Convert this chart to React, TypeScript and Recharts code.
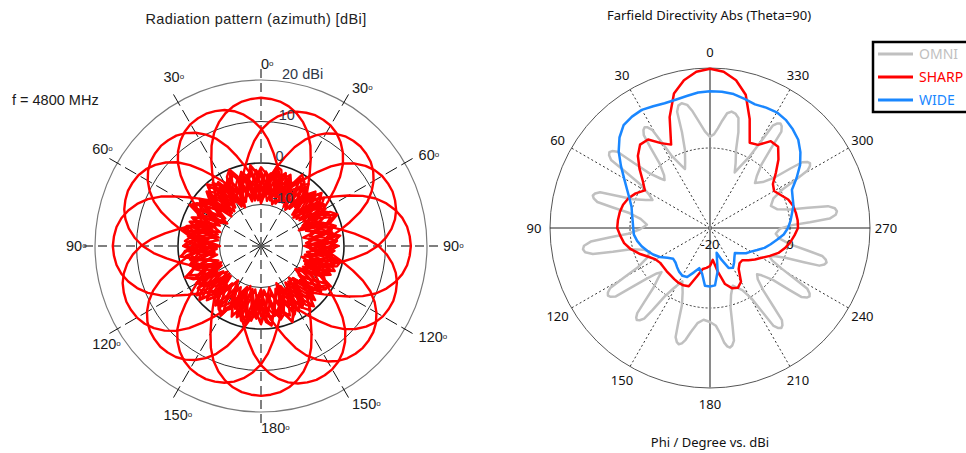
import React from 'react';
import { RadarChart, Radar, PolarGrid, PolarAngleAxis, PolarRadiusAxis } from 'recharts';

// ---------------- Left chart: Radiation pattern (azimuth) [dBi] ----------------
// One switched beam, sampled every 3.75 degrees (offset from the beam direction), dBi
const beamStep = 3.75;
const beamShape = [
  15.8, 15.6, 15.2, 14.4, 13.2, 11.6, 9.6, 7.0, 4.0, 1.2, -1.2, -3.2, -4.8,
  -3.5, -0.8, -2.5, -6.0, -3.0, -0.5, -3.5, -7.5, -4.5, -1.0, -2.0, -5.5,
  -8.0, -5.0, -1.5, -3.0, -6.5, -8.5, -4.5, -1.2, -2.5, -5.5, -7.5, -4.0,
  -0.6, -2.0, -5.8, -8.2, -5.0, -1.8, -3.2, -7.0, -4.2, -0.7, -2.5, -6.5,
  -8.0, -4.5, -1.2, -2.8, -6.0, -7.8, -4.0, -0.5, -1.8, -5.2, -7.5, -3.5,
  -1.0, -3.8, -7.8, -5.2, -1.8, -0.4, -2.6, -6.4, -8.4, -5.0, -2.0, -3.6,
  -6.6, -4.0, -0.8, -1.4, -4.6, -7.2, -4.5, -1.5, -1.6, -3.0, -4.2,
  -4.8, -3.2, -1.2, 1.2, 4.0, 7.0, 9.6, 11.6, 13.2, 14.4, 15.2, 15.6,
];
// steering directions of the 16 beams (deg), peak-gain deviation (dB), and whether the beam is mirrored
const beamSteer = [0, 22.5, 45, 67.5, 90, 112.5, 135, 157.5, 180, 202.5, 225, 247.5, 270, 292.5, 315, 337.5];
const beamGain = [0, -1.6, -1.8, -1.4, 0.4, -1.2, -1.0, -0.8, 0.4, -1.0, -1.4, -0.6, 0, -1.0, -1.6, -1.2];
const beamMirrored = [false, true, false, true, false, true, false, true, false, true, false, true, false, true, false, true];
const leftAngleTicks = [0, 30, 60, 90, 120, 150, 180, 210, 240, 270, 300, 330];
const leftRadiusTicks = [-10, 0, 10, 20];

// ---------------- Right chart: Farfield Directivity Abs (Theta=90) ----------------
const phi5 = [
  0, 5, 10, 15, 20, 25, 30, 35, 40, 45, 50, 55, 60, 65, 70, 75, 80, 85,
  90, 95, 100, 105, 110, 115, 120, 125, 130, 135, 140, 145, 150, 155, 160, 165, 170, 175,
  180, 185, 190, 195, 200, 205, 210, 215, 220, 225, 230, 235, 240, 245, 250, 255, 260, 265,
  270, 275, 280, 285, 290, 295, 300, 305, 310, 315, 320, 325, 330, 335, 340, 345, 350, 355,
];
const sharpDbi = [
  19.8, 19.2, 17.5, 14.8, 9.5, 3.0, 4.5, 7.0, 7.2, 5.5, 3.0, 0.5, -1.2, 0.5, 1.7, 2.5, 2.9, 3.1,
  3.2, 2.5, 1.8, 0.5, -1.2, -3.0, -4.3, -4.8, -4.8, -4.7, -4.6, -4.4, -4.2, -4.2, -4.5, -7.5, -9.6, -10.0,
  -10.5, -12.0, -9.0, -5.5, -4.0, -3.5, -4.5, -7.5, -8.5, -8.6, -7.5, -6.3, -5.1, -3.5, -1.8, -0.6, 0.4, 1.2,
  2.0, 2.0, 1.8, 1.5, 0.8, -0.5, -1.5, -0.8, 1.5, 4.2, 6.5, 6.5, 4.0, 3.5, 9.0, 14.5, 17.5, 19.2,
];
const wideDbi = [
  14.2, 14.0, 13.5, 13.2, 13.2, 13.6, 14.1, 14.0, 13.6, 12.0, 9.8, 7.2, 4.8, 2.9, 1.4, 0.3, -0.2, -0.6,
  -0.8, -0.9, -1.5, -2.3, -3.3, -4.3, -5.5, -7.0, -8.0, -7.8, -7.2, -6.6, -6.2, -6.5, -8.2, -9.6, -8.5, -5.5,
  -5.4, -5.6, -9.0, -13.6, -11.5, -9.0, -8.5, -9.5, -10.5, -11.2, -10.2, -9.0, -8.2, -7.0, -5.5, -4.3, -3.0, -1.5,
  -0.5, 0.2, 0.8, 1.6, 2.0, 2.6, 5.0, 7.5, 9.5, 11.2, 12.2, 13.0, 13.4, 13.2, 12.9, 13.4, 14.0, 14.2,
];
const omniPhi = [
  0, 3, 6, 8.5, 10.5, 12.8, 14.5, 15.8, 16.3, 17.8, 20.8,
  23,
  25, 28, 29.5, 30.5, 31.8, 33, 34.2, 35.5, 36.5, 38, 41,
  43.5,
  45, 48, 49.5, 50.5, 51.8, 53, 54.2, 55.5, 56.5, 58, 61,
  64,
  66.5, 69.5, 71, 72, 73.3, 74.5, 75.7, 77, 78, 79.5, 82.5,
  87,
  91, 94, 95.3, 96.5, 98, 99.5, 101, 102.5, 103.7, 105, 108,
  111.5,
  115.5, 118.5, 120, 121, 122.3, 123.5, 124.7, 126, 127, 128.5, 130.5,
  132.3,
  134, 136.5, 138.5, 139.5, 140.5, 141.5, 142.7, 144, 145, 146.5, 149,
  152.5,
  157, 160, 161.5, 162.5, 163.8, 165, 166.3, 167.7, 169.5, 172.5, 176,
  180,
  183.5, 185.5, 187, 188.3, 189.5, 190.7, 192, 193, 194.5, 197.5,
  201.5,
  207.5, 210.5, 212, 213, 214.3, 215.5, 216.7, 218, 219, 220.5, 223,
  225.5,
  227.5, 230.5, 232, 233, 234.3, 235.5, 236.7, 238, 239, 240.5, 242.5,
  244.5,
  246.5, 248.5, 250, 251, 252.3, 253.5, 254.7, 256, 257, 258.5, 261.5,
  265,
  269.5, 272, 273.3, 274.5, 276, 277.5, 279, 280.5, 281.7, 283, 285.5,
  290,
  295, 298, 299.5, 300.5, 301.8, 303, 304.2, 305.5, 306.5, 308, 311,
  315,
  318, 321, 322.5, 323.5, 324.8, 326, 327.2, 328.5, 329.5, 331, 333.5,
  336,
  338.5, 341.5, 343.5, 345.5, 347.5, 349.5, 351.5, 353.5, 355.5, 357.5,
];
const omniDbi = [
  2.8, 4.2, 6.8, 9.5, 11.3, 12.0, 11.6, 10.2, 5.0, 0.5, -2.5,
  -4.0,
  -2.5, 0.5, 5.0, 8.5, 9.6, 10.0, 9.6, 8.5, 5.0, 0.5, -2.5,
  -3.5,
  -2.5, 0.5, 5.0, 10.0, 11.1, 11.5, 11.1, 10.0, 5.0, 0.5, -2.5,
  -4.0,
  -2.5, 0.5, 5.0, 8.9, 10.0, 10.4, 10.0, 8.9, 5.0, 0.5, -2.5,
  -4.2,
  -2.5, 0.5, 5.0, 10.0, 11.8, 12.2, 11.8, 10.0, 5.0, 0.5, -2.5,
  -3.8,
  -2.5, 0.5, 5.0, 9.1, 10.2, 10.6, 10.2, 9.1, 5.0, 0.5, -2.5,
  -3.6,
  -2.0, 0.5, 5.0, 8.0, 9.0, 9.4, 9.0, 8.0, 5.0, 0.5, -2.5,
  -5.0,
  -2.5, 0.5, 5.0, 8.6, 9.7, 10.1, 9.7, 8.6, 6.5, 4.0, 3.0,
  3.5,
  4.5, 6.5, 8.8, 9.9, 10.3, 9.9, 8.8, 5.0, 0.5, -2.5,
  -4.5,
  -2.5, 0.5, 5.0, 9.2, 10.3, 10.7, 10.3, 9.2, 5.0, 0.5, -2.5,
  -3.5,
  -2.5, 0.5, 5.0, 8.7, 9.8, 10.2, 9.8, 8.7, 5.0, 0.5, -2.5,
  -3.5,
  -2.5, 0.5, 5.0, 8.9, 10.0, 10.4, 10.0, 8.9, 5.0, 0.5, -2.5,
  -3.5,
  -2.5, 0.5, 5.0, 10.0, 11.6, 12.0, 11.6, 10.0, 5.0, 0.5, -2.5,
  -3.8,
  -2.5, 0.5, 5.0, 8.3, 9.4, 9.8, 9.4, 8.3, 5.0, 0.5, -2.5,
  -4.1,
  -2.5, 0.5, 5.0, 10.0, 11.1, 11.5, 11.1, 10.0, 5.0, 0.5, -2.5,
  -4.8,
  -2.5, 0.5, 5.0, 8.4, 9.3, 9.6, 9.0, 7.0, 5.0, 3.5,
];
const seriesNames = ['OMNI', 'SHARP', 'WIDE'];
const seriesColors = ['#c0c0c0', '#ff0000', '#1a87ff'];
const rightAngleTicks = [0, 30, 60, 90, 120, 150, 180, 210, 240, 270, 300, 330];
const rightRadiusTicks = [-20, 0];

// ---------------- geometry / styles ----------------
const LCX = 261, LCY = 246, LOUT = 178, LRING20 = 166;
const L_MIN = -20;
const L_MAX = 20 + (40 * (LOUT - LRING20)) / LRING20;
const rL = (v: number) => ((v - L_MIN) / (L_MAX - L_MIN)) * LOUT;

const RLEFT = 520, RCX = 190, RCY = 228, ROUT = 160;
const R_MIN = -20, R_MAX = 20;
const rR = (v: number) => ((v - R_MIN) / (R_MAX - R_MIN)) * ROUT;

const ARIAL = '"Liberation Sans", Arial, sans-serif';
const TAHOMA = '"Noto Sans", "DejaVu Sans", sans-serif';

const beamRows = beamShape.map((_, i) => {
  const row: Record<string, number> = { ang: i * beamStep };
  const n = beamShape.length;
  beamSteer.forEach((steer, k) => {
    const shift = Math.round(steer / beamStep);
    const rel = (i - shift + n) % n;
    const idx = beamMirrored[k] ? (n - rel) % n : rel;
    row['b' + k] = beamShape[idx] + beamGain[k];
  });
  return row;
});

const omniRows = omniPhi.map((p, i) => ({ phi: p, v: omniDbi[i] }));
const sharpRows = phi5.map((p, i) => ({ phi: p, v: sharpDbi[i] }));
const wideRows = phi5.map((p, i) => ({ phi: p, v: wideDbi[i] }));
const rightRows = [omniRows, sharpRows, wideRows];

function LeftAngleTick(props: any) {
  const { x, y, payload } = props;
  const v = Number(payload.value);
  const ux = x - LCX, uy = y - LCY;
  const len = Math.hypot(ux, uy) || 1;
  const push = v > 180 ? 13 : 0;
  const px = x + (ux / len) * push;
  const py = y + (uy / len) * push;
  const label = v <= 180 ? v : 360 - v;
  return (
    <text x={px} y={py + 5} textAnchor="start" fontFamily={ARIAL} fontSize={14.5} fill="#1a1a1a">
      {label}
      <tspan fontSize={8} dy={-3}>o</tspan>
    </text>
  );
}

function LeftRadiusTick(props: any) {
  const { x, y, payload } = props;
  const v = Number(payload.value);
  return (
    <text x={x + 8} y={y - 2} textAnchor="start" fontFamily={ARIAL} fontSize={14.5} fill="#2f3848">
      {v === 20 ? '20 dBi' : String(v)}
    </text>
  );
}

function RightAngleTick(props: any) {
  const { x, y, payload } = props;
  return (
    <text x={x} y={y + 4.5} textAnchor="middle" fontFamily={TAHOMA} fontSize={13} fill="#111">
      {payload.value}
    </text>
  );
}

function RightRadiusTick(props: any) {
  const { x, y, payload } = props;
  return (
    <text x={x} y={y + 21} textAnchor="middle" fontFamily={TAHOMA} fontSize={13} fill="#111">
      {payload.value}
    </text>
  );
}

function LeftChart() {
  return (
    <RadarChart
      width={RLEFT}
      height={453}
      data={beamRows}
      cx={LCX}
      cy={LCY}
      outerRadius={LOUT}
      startAngle={90}
      endAngle={-270}
      margin={{ top: 0, right: 0, bottom: 0, left: 0 }}
    >
      <PolarGrid gridType="circle" polarAngles={[]} polarRadius={[rL(20)]} stroke="#7a7a7a" strokeWidth={1.2} />
      <PolarGrid gridType="circle" polarAngles={[]} polarRadius={[rL(10), rL(-10)]} stroke="#333" strokeWidth={1} />
      <PolarGrid
        gridType="circle"
        polarAngles={[30, 60, 120, 150, 210, 240, 300, 330]}
        polarRadius={[]}
        stroke="#111"
        strokeWidth={1}
        strokeDasharray="13 5"
      />
      <PolarGrid
        gridType="circle"
        polarAngles={[0, 90, 180, 270]}
        polarRadius={[]}
        stroke="#555"
        strokeWidth={1.5}
        strokeDasharray="9 5"
      />
      <PolarAngleAxis
        dataKey="ang"
        type="number"
        domain={[0, 360]}
        ticks={leftAngleTicks}
        tick={LeftAngleTick}
        tickSize={4}
        axisLine={false}
        tickLine={false}
      />
      {beamSteer.map((_, k) => (
        <Radar
          key={k}
          dataKey={'b' + k}
          stroke="#ff0000"
          strokeWidth={2.4}
          strokeLinejoin="round"
          fill="none"
          fillOpacity={0}
          dot={false}
          isAnimationActive={false}
        />
      ))}
      <PolarGrid gridType="circle" polarAngles={[]} polarRadius={[rL(0)]} stroke="#1a1a1a" strokeWidth={1.6} />
      <PolarRadiusAxis
        angle={85.5}
        type="number"
        domain={[L_MIN, L_MAX]}
        ticks={leftRadiusTicks}
        tick={LeftRadiusTick}
        axisLine={false}
        tickLine={false}
        allowDataOverflow
      />
    </RadarChart>
  );
}

function RightChart({ idx, base }: { idx: number; base: boolean }) {
  return (
    <RadarChart
      width={446}
      height={453}
      data={rightRows[idx]}
      cx={RCX}
      cy={RCY}
      outerRadius={ROUT}
      startAngle={90}
      endAngle={450}
      margin={{ top: 0, right: 0, bottom: 0, left: 0 }}
    >
      {base && <PolarGrid gridType="circle" polarAngles={[]} polarRadius={[rR(20)]} stroke="#555" strokeWidth={1} />}
      {base && (
        <PolarGrid gridType="circle" polarAngles={[]} polarRadius={[rR(0)]} stroke="#333" strokeWidth={1} strokeDasharray="2 2" />
      )}
      {base && (
        <PolarGrid
          gridType="circle"
          polarAngles={[30, 60, 120, 150, 210, 240, 300, 330]}
          polarRadius={[]}
          stroke="#333"
          strokeWidth={1}
          strokeDasharray="2 2.5"
        />
      )}
      {base && <PolarGrid gridType="circle" polarAngles={[0, 180]} polarRadius={[]} stroke="#222" strokeWidth={1} />}
      {base && <PolarGrid gridType="circle" polarAngles={[90, 270]} polarRadius={[]} stroke="#8a8a8a" strokeWidth={2} />}
      <PolarAngleAxis
        dataKey="phi"
        type="number"
        domain={[0, 360]}
        ticks={rightAngleTicks}
        tick={base ? RightAngleTick : false}
        tickSize={16}
        axisLine={false}
        tickLine={false}
      />
      <PolarRadiusAxis
        angle={0}
        type="number"
        domain={[R_MIN, R_MAX]}
        ticks={rightRadiusTicks}
        tick={base ? RightRadiusTick : false}
        axisLine={false}
        tickLine={false}
      />
      <Radar
        dataKey="v"
        name={seriesNames[idx]}
        stroke={seriesColors[idx]}
        strokeWidth={2.5}
        strokeLinejoin="round"
        fill="none"
        fillOpacity={0}
        dot={false}
        isAnimationActive={false}
      />
    </RadarChart>
  );
}

export default function App() {
  return (
    <div style={{ position: 'absolute', left: 0, top: 0, width: 966, height: 453, overflow: 'hidden', background: '#fff' }}>
      <div style={{ position: 'absolute', left: 0, top: 0 }}>
        <LeftChart />
      </div>
      {[0, 1, 2].map((i) => (
        <div key={i} style={{ position: 'absolute', left: RLEFT, top: 0 }}>
          <RightChart idx={i} base={i === 0} />
        </div>
      ))}
      <svg width={966} height={453} style={{ position: 'absolute', left: 0, top: 0, pointerEvents: 'none' }}>
        <text x={256} y={24} textAnchor="middle" fontFamily={ARIAL} fontSize={14.5} letterSpacing={0.4} fill="#222">
          Radiation pattern (azimuth) [dBi]
        </text>
        <text x={12} y={105} fontFamily={ARIAL} fontSize={14.5} fill="#1a1a1a">
          f = 4800 MHz
        </text>
        <text x={709} y={20} textAnchor="middle" fontFamily={TAHOMA} fontSize={13} fill="#111">
          Farfield Directivity Abs (Theta=90)
        </text>
        <text x={710} y={447} textAnchor="middle" fontFamily={TAHOMA} fontSize={13} fill="#111">
          Phi / Degree vs. dBi
        </text>
        <rect x={873} y={42} width={120} height={70} fill="#fff" stroke="#000" strokeWidth={2.5} />
        {seriesNames.map((n, i) => (
          <g key={n}>
            <line x1={878} x2={913} y1={54 + i * 23} y2={54 + i * 23} stroke={seriesColors[i]} strokeWidth={3} />
            <text x={919} y={59 + i * 23} fontFamily={TAHOMA} fontSize={14} fill={seriesColors[i]}>
              {n}
            </text>
          </g>
        ))}
      </svg>
    </div>
  );
}
